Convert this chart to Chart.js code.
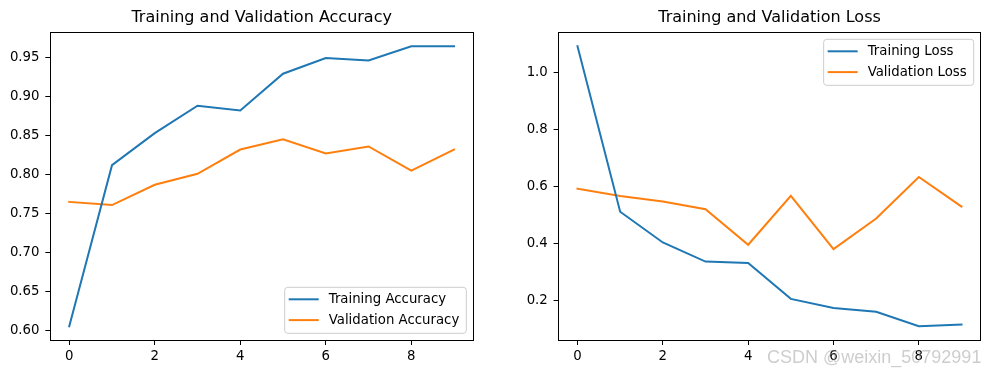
<!DOCTYPE html>
<html>
<head>
<meta charset="utf-8">
<script src="https://cdn.jsdelivr.net/npm/chart.js@4.4.0/dist/chart.umd.min.js"></script>
<style>
  body { margin: 0; background: #fff; width: 990px; height: 374px; position: relative; overflow: hidden; }
  .box { position: absolute; top: 0; width: 495px; height: 374px; }
  #mark { position: absolute; left: 767px; top: 348px; font: 18px "Liberation Sans", Arial, sans-serif;
          line-height: 18px; color: rgba(150,150,150,0.48); white-space: nowrap; }
</style>
</head>
<body>
<div class="box" style="left:0"><canvas id="accChart" width="495" height="374"></canvas></div>
<div class="box" style="left:495px"><canvas id="lossChart" width="495" height="374"></canvas></div>
<div id="mark">CSDN @weixin_50792991</div>
<script>
var epochs = [0, 1, 2, 3, 4, 5, 6, 7, 8, 9];
var trainAcc = [0.606, 0.812, 0.853, 0.888, 0.882, 0.929, 0.949, 0.946, 0.964, 0.964];
var valAcc   = [0.765, 0.761, 0.787, 0.801, 0.832, 0.845, 0.827, 0.836, 0.805, 0.832];
var trainLoss = [1.092, 0.511, 0.403, 0.336, 0.331, 0.205, 0.173, 0.160, 0.109, 0.115];
var valLoss   = [0.592, 0.566, 0.547, 0.520, 0.395, 0.567, 0.380, 0.487, 0.633, 0.529];
var xTicks = [0, 2, 4, 6, 8];
var accTicks = [0.60, 0.65, 0.70, 0.75, 0.80, 0.85, 0.90, 0.95];
var lossTicks = [0.2, 0.4, 0.6, 0.8, 1.0];

var BLUE = '#1f77b4', ORANGE = '#ff7f0e';
var FONT = '"DejaVu Sans", sans-serif';

Chart.defaults.color = '#000';
Chart.defaults.font.family = FONT;
Chart.defaults.font.size = 13.3;

function pts(ys) {
  return ys.map(function(v, i) { return { x: epochs[i], y: v }; });
}

// axes frame + matplotlib-like legend inside the plot
var framePlugin = {
  id: 'frame',
  afterDraw: function(chart) {
    var a = chart.chartArea, ctx = chart.ctx;
    var opt = chart.options.plugins.frame;
    ctx.save();
    ctx.strokeStyle = '#000';
    ctx.lineWidth = 1;
    ctx.strokeRect(Math.round(a.left) + 0.5, Math.round(a.top) + 0.5,
                   Math.round(a.right - a.left), Math.round(a.bottom - a.top));

    ctx.font = '13.3px ' + FONT;
    var tw = 0;
    chart.data.datasets.forEach(function(ds) { tw = Math.max(tw, ctx.measureText(ds.label).width); });
    var w = tw + 51, h = 46;
    var x = a.right - 7 - w;
    var y = opt.loc === 'upper' ? a.top + 7 : a.bottom - 7 - h;
    ctx.beginPath();
    ctx.roundRect(x, y, w, h, 3);
    ctx.fillStyle = 'rgba(255,255,255,0.8)';
    ctx.fill();
    ctx.strokeStyle = '#cccccc';
    ctx.stroke();
    ctx.textBaseline = 'middle';
    chart.data.datasets.forEach(function(ds, i) {
      var ry = y + 12 + i * 20.8;
      ctx.beginPath();
      ctx.moveTo(x + 5, ry);
      ctx.lineTo(x + 33, ry);
      ctx.strokeStyle = ds.borderColor;
      ctx.lineWidth = 2;
      ctx.lineCap = 'square';
      ctx.stroke();
      ctx.fillStyle = '#000';
      ctx.fillText(ds.label, x + 44, ry);
    });
    ctx.restore();
  }
};

function makeChart(id, title, series, labels, yMin, yMax, yTicks, digits, padRight, yWidth, loc) {
  return new Chart(document.getElementById(id), {
    type: 'line',
    data: {
      datasets: [
        { label: labels[0], data: pts(series[0]), borderColor: BLUE, backgroundColor: BLUE },
        { label: labels[1], data: pts(series[1]), borderColor: ORANGE, backgroundColor: ORANGE }
      ]
    },
    options: {
      responsive: false,
      animation: false,
      elements: { point: { radius: 0 }, line: { borderWidth: 2, tension: 0, borderCapStyle: 'square' } },
      layout: { padding: { left: 0, right: padRight, top: 0, bottom: 0 } },
      plugins: {
        legend: { display: false },
        tooltip: { enabled: false },
        title: { display: true, text: title, fullSize: false, color: '#000',
                 font: { size: 16, weight: 'normal' }, padding: { top: 8.7, bottom: 4.4 } },
        frame: { loc: loc }
      },
      scales: {
        x: {
          type: 'linear', min: -0.45, max: 9.45,
          afterBuildTicks: function(s) { s.ticks = xTicks.map(function(v) { return { value: v }; }); },
          afterFit: function(s) { s.height = 33.7; },
          grid: { drawOnChartArea: false, color: '#000', tickLength: 4.7 },
          border: { display: false },
          ticks: { padding: 3.3, maxRotation: 0, callback: function(v) { return String(v); } }
        },
        y: {
          min: yMin, max: yMax,
          afterBuildTicks: function(s) { s.ticks = yTicks.map(function(v) { return { value: v }; }); },
          afterFit: function(s) { s.width = yWidth; },
          grid: { drawOnChartArea: false, color: '#000', tickLength: 4.7 },
          border: { display: false },
          ticks: { padding: 5.8, callback: function(v) { return Number(v).toFixed(digits); } }
        }
      }
    },
    plugins: [framePlugin]
  });
}

makeChart('accChart', 'Training and Validation Accuracy', [trainAcc, valAcc],
          ['Training Accuracy', 'Validation Accuracy'], 0.588, 0.982, accTicks, 2, 21.7, 50, 'lower');
makeChart('lossChart', 'Training and Validation Loss', [trainLoss, valLoss],
          ['Training Loss', 'Validation Loss'], 0.0596, 1.141, lossTicks, 1, 9.3, 63.3, 'upper');
</script>
</body>
</html>
